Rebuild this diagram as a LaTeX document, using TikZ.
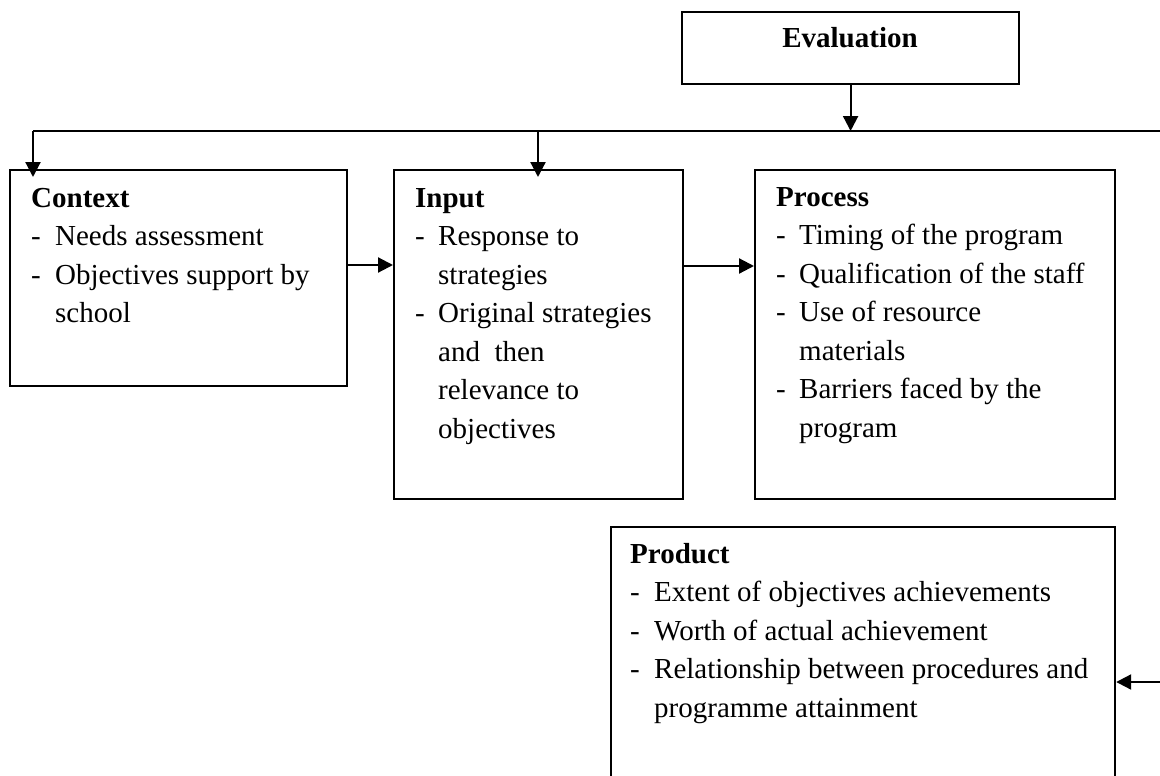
\documentclass[tikz,border=0pt]{standalone}
\usepackage{fontspec}
\setmainfont{Liberation Serif}
\usetikzlibrary{arrows.meta}
\begin{document}
\begin{tikzpicture}[x=1pt,y=-1pt,
  box/.style={draw, line width=2.2pt, anchor=north west, inner sep=0pt},
  txt/.style={anchor=north west, inner sep=0pt, align=left, font=\fontsize{29}{38.5}\selectfont},
  ln/.style={line width=2.2pt},
  arr/.style={line width=2.2pt, -{Triangle[length=15pt,width=15pt]}}]
\useasboundingbox (0,0) rectangle (1160,776);
\fill[white] (0,0) rectangle (1160,776);

% boxes
\node[box, minimum width=337pt, minimum height=72pt] (eval) at (681,11) {};
\node[box, minimum width=337pt, minimum height=216pt] (context) at (9,169) {};
\node[box, minimum width=289pt, minimum height=329pt] (input) at (393,169) {};
\node[box, minimum width=360pt, minimum height=329pt] (process) at (754,169) {};
\node[box, minimum width=504pt, minimum height=290pt] (product) at (610,526) {};

% texts
\node[font=\fontsize{29}{34}\selectfont\bfseries, anchor=base, inner sep=0pt] (evalT) at (850,48) {Evaluation};
\node[txt] (ctxT) at (31,180) {\strut\textbf{Context}\\
  \makebox[24pt][l]{-}Needs assessment\\
  \makebox[24pt][l]{-}Objectives support by\\
  \hspace*{24pt}school};
\node[txt] (inpT) at (415,180) {\strut\textbf{Input}\\
  \makebox[23pt][l]{-}Response to\\
  \hspace*{23pt}strategies\\
  \makebox[23pt][l]{-}Original strategies\\
  \hspace*{23pt}and \ then\\
  \hspace*{23pt}relevance to\\
  \hspace*{23pt}objectives};
\node[txt] (prcT) at (776,179) {\strut\textbf{Process}\\
  \makebox[23pt][l]{-}Timing of the program\\
  \makebox[23pt][l]{-}Qualification of the staff\\
  \makebox[23pt][l]{-}Use of resource\\
  \hspace*{23pt}materials\\
  \makebox[23pt][l]{-}Barriers faced by the\\
  \hspace*{23pt}program};
\node[txt] (prdT) at (630,536) {\strut\textbf{Product}\\
  \makebox[24pt][l]{-}Extent of objectives achievements\\
  \makebox[24pt][l]{-}Worth of actual achievement\\
  \makebox[24pt][l]{-}Relationship between procedures and\\
  \hspace*{24pt}programme attainment};

% connectors
\coordinate (lL) at (33,131);
\coordinate (lI) at (538,131);
\coordinate (lR) at (1175,131);
\coordinate (pR) at (1175,682);
\coordinate (a1) at ([yshift=-96pt]context.north east);
\coordinate (a2) at ([yshift=-97pt]input.north east);

\draw[ln] (lL) -- (lR) -- (pR);
\draw[arr] (eval.south) -- (eval.south |- lL);
\draw[arr, shorten >=-8pt] (lL) -- (lL |- context.north);
\draw[arr, shorten >=-8pt] (lI) -- (lI |- input.north);
\draw[arr] (a1) -- (a1 -| input.west);
\draw[arr] (a2) -- (a2 -| process.west);
\draw[arr] (pR) -- (pR -| product.east);
\end{tikzpicture}
\end{document}
